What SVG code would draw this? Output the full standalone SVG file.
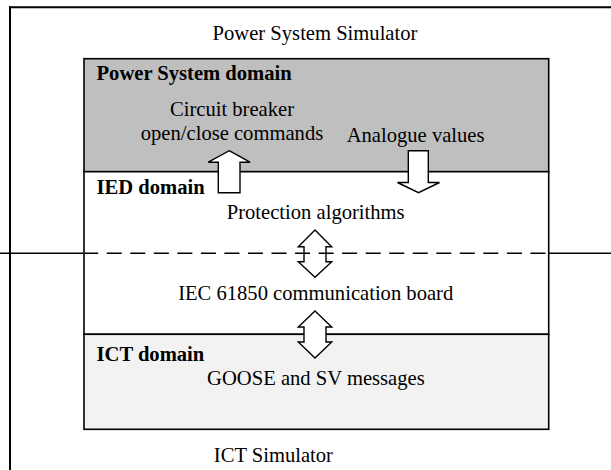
<svg xmlns="http://www.w3.org/2000/svg" width="611" height="470" viewBox="0 0 611 470">
  <style>
    text { font-family: "Liberation Serif", "Times New Roman", serif; font-size: 20.6px; fill: #000; }
    .b { font-weight: bold; }
    .c { text-anchor: middle; }
    .arrow { fill: #fff; stroke: #000; stroke-width: 1.4; stroke-linejoin: miter; }
    .box { stroke: #000; stroke-width: 1.6; }
  </style>
  <rect x="0" y="0" width="611" height="470" fill="#fff"/>

  <g id="power-system-simulator">
    <line x1="9" y1="7.3" x2="611" y2="7.3" stroke="#000" stroke-width="2"/>
    <line x1="10" y1="6.3" x2="10" y2="470" stroke="#000" stroke-width="2"/>
    <text class="c" x="315" y="40">Power System Simulator</text>
  </g>

  <g id="power-system-domain">
    <rect class="box" x="84" y="58.7" width="464.7" height="113" fill="#bfbfbf"/>
    <text class="b" x="96.5" y="80">Power System domain</text>
    <text class="c" x="232" y="116">Circuit breaker</text>
    <text class="c" x="232" y="140">open/close commands</text>
    <text class="c" x="415.6" y="142">Analogue values</text>
  </g>

  <g id="ied-domain">
    <rect class="box" x="84" y="171.7" width="464.7" height="162.6" fill="#fff"/>
    <text class="b" x="96.5" y="194.3">IED domain</text>
    <text class="c" x="315.7" y="219">Protection algorithms</text>
    <text class="c" x="315.7" y="300">IEC 61850 communication board</text>
  </g>

  <g id="ict-domain">
    <rect class="box" x="84" y="334.3" width="464.7" height="95" fill="#f2f2f2"/>
    <text class="b" x="96.5" y="360.7">ICT domain</text>
    <text class="c" x="315.9" y="385">GOOSE and SV messages</text>
  </g>

  <g id="ict-simulator">
    <text class="c" x="273.4" y="461.7">ICT Simulator</text>
  </g>

  <g id="connectors">
    <polygon class="arrow" points="229.2,150.7 250,162.2 240,162.2 240,192.7 218.3,192.7 218.3,162.2 208.3,162.2"/>
    <polygon class="arrow" points="408.3,150.7 428.3,150.7 428.3,182.5 439.5,182.5 418.5,192.7 397.5,182.5 408.3,182.5"/>
    <polygon class="arrow" points="315,230 331.7,246.7 326,246.7 326,261.7 331.7,261.7 315,277.3 298.3,261.7 304,261.7 304,246.7 298.3,246.7"/>
    <polygon class="arrow" points="315,311 331.7,327 326,327 326,342 331.7,342 315,358 298.3,342 304,342 304,327 298.3,327"/>
    <line x1="0" y1="253.3" x2="84" y2="253.3" stroke="#000" stroke-width="1.4"/>
    <line x1="548.7" y1="253.3" x2="611" y2="253.3" stroke="#000" stroke-width="1.4"/>
    <line x1="85" y1="253.3" x2="548" y2="253.3" stroke="#000" stroke-width="1.4" stroke-dasharray="15 8.54" stroke-dashoffset="1.8"/>
  </g>
</svg>
